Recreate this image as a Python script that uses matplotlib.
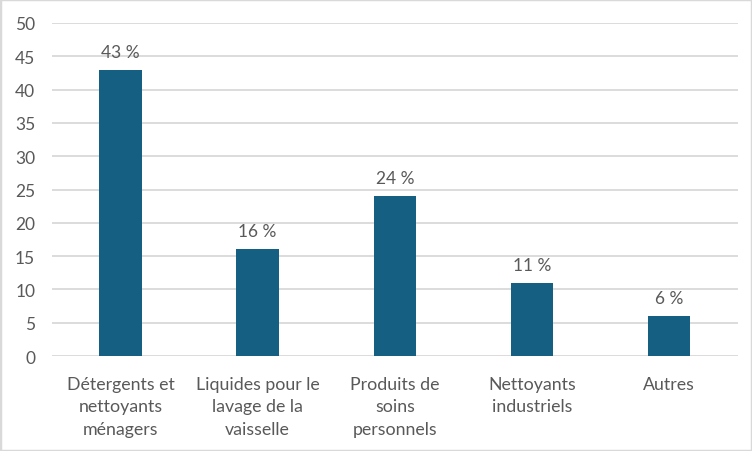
import matplotlib

matplotlib.use("Agg")
import matplotlib.pyplot as plt
from matplotlib.patches import Rectangle

categories = [
    "Détergents et\nnettoyants\nménagers",
    "Liquides pour le\nlavage de la\nvaisselle",
    "Produits de\nsoins\npersonnels",
    "Nettoyants\nindustriels",
    "Autres",
]
values = [43, 16, 24, 11, 6]
yticks = [0, 5, 10, 15, 20, 25, 30, 35, 40, 45, 50]

BAR = "#156082"
TEXT = "#595959"
GRID = "#d9d9d9"

plt.rcParams["font.family"] = ["Lato", "DejaVu Sans"]

fig = plt.figure(figsize=(7.52, 4.52), dpi=100)
ax = fig.add_axes([0.069, 0.21, 0.912, 0.737])

x = list(range(len(categories)))
bars = ax.bar(x, values, width=0.31, color=BAR, zorder=3)

for rect, v in zip(bars, values):
    ax.text(
        rect.get_x() + rect.get_width() / 2,
        v + 1.5,
        f"{v} %",
        ha="center",
        va="bottom",
        fontsize=12.5,
        color=TEXT,
    )

ax.set_xlim(-0.5, len(categories) - 0.5)
ax.set_ylim(0, 50)
ax.set_yticks(yticks)
ax.set_xticks(x)
ax.set_xticklabels(categories, fontsize=12.8, color=TEXT, linespacing=1.5)
ax.tick_params(axis="y", labelsize=12.5, labelcolor=TEXT, length=0, pad=12)
ax.tick_params(axis="x", length=0, pad=14)
ax.grid(axis="y", color=GRID, linewidth=1.3, zorder=0)
for spine in ax.spines.values():
    spine.set_visible(False)

fig.patches.append(
    Rectangle((0, 0), 1, 1, transform=fig.transFigure, fill=False,
              edgecolor=GRID, linewidth=2.5)
)

fig.savefig("out.png", dpi=100)
